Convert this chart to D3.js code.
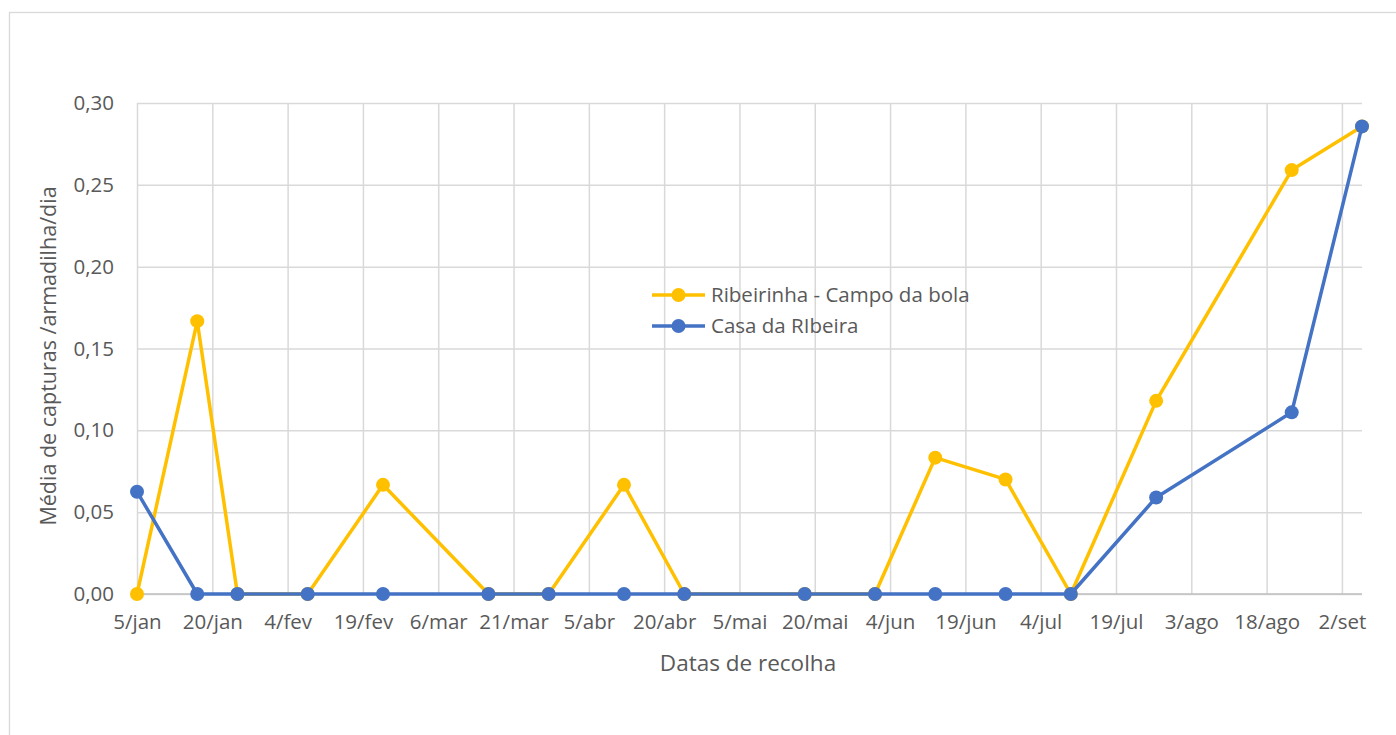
<!DOCTYPE html>
<html>
<head>
<meta charset="utf-8">
<script src="https://cdn.jsdelivr.net/npm/d3@7"></script>
<style>
  html, body { margin: 0; padding: 0; background: #fff; }
  svg { display: block; font-family: "Open Sans", Lato, sans-serif; }
</style>
</head>
<body>
<svg id="chart" width="1396" height="735"></svg>
<script>
// ---- data ----
const dates = ["2019-01-05","2019-01-17","2019-01-25","2019-02-08","2019-02-23","2019-03-16","2019-03-28",
  "2019-04-12","2019-04-24","2019-05-18","2019-06-01","2019-06-13","2019-06-27","2019-07-10",
  "2019-07-27","2019-08-23","2019-09-06"];
const ribeirinha = [0, 0.1667, 0, 0, 0.0667, 0, 0, 0.0667, 0, 0, 0, 0.0833, 0.07, 0, 0.118, 0.259, 0.2857];
const casaRibeira = [0.0625, 0, 0, 0, 0, 0, 0, 0, 0, 0, 0, 0, 0, 0, 0.059, 0.111, 0.2857];
const seriesNames = ["Ribeirinha - Campo da bola", "Casa da RIbeira"];
const seriesColors = ["#FFC000", "#4472C4"];
const xTickDates = ["2019-01-05","2019-01-20","2019-02-04","2019-02-19","2019-03-06","2019-03-21","2019-04-05",
  "2019-04-20","2019-05-05","2019-05-20","2019-06-04","2019-06-19","2019-07-04","2019-07-19",
  "2019-08-03","2019-08-18","2019-09-02"];
const yTicks = [0, 0.05, 0.10, 0.15, 0.20, 0.25, 0.30];
const xTitle = "Datas de recolha";
const yTitle = "Média de capturas /armadilha/dia";

// ---- setup ----
const parse = d3.utcParse("%Y-%m-%d");
const monthsPt = ["jan","fev","mar","abr","mai","jun","jul","ago","set","out","nov","dez"];
const fmtDate = d => d.getUTCDate() + "/" + monthsPt[d.getUTCMonth()];
const fmtNum = d => d.toFixed(2).replace(".", ",");
const FONT = "'Open Sans', Lato, sans-serif";

const svg = d3.select("#chart");
const pLeft = 137, pRight = 1362, pTop = 103, pBottom = 594;

const x = d3.scaleUtc()
  .domain([parse(dates[0]), parse(dates[dates.length - 1])])
  .range([pLeft, pRight]);
const y = d3.scaleLinear().domain([0, 0.30]).range([pBottom, pTop]);

// chart border
svg.append("rect")
  .attr("x", 9.5).attr("y", 12.5).attr("width", 1400).attr("height", 740)
  .attr("fill", "none").attr("stroke", "#d9d9d9").attr("stroke-width", 1.3);

// horizontal gridlines
const yAxis = d3.axisLeft(y).tickValues(yTicks).tickFormat(fmtNum)
  .tickSize(-(pRight - pLeft)).tickPadding(23);
const gy = svg.append("g").attr("transform", `translate(${pLeft},0)`).call(yAxis);
gy.select(".domain").remove();
gy.selectAll(".tick line").attr("stroke", "#d9d9d9").attr("stroke-width", 1.5);
gy.selectAll(".tick text").attr("fill", "#595959").style("font-size", "20.5px")
  .style("font-family", FONT);

// vertical gridlines + x labels
const xAxis = d3.axisBottom(x).tickValues(xTickDates.map(parse)).tickFormat(fmtDate)
  .tickSize(-(pBottom - pTop)).tickPadding(20);
const gx = svg.append("g").attr("transform", `translate(0,${pBottom})`).call(xAxis);
gx.select(".domain").remove();
gx.selectAll(".tick line").attr("stroke", "#d9d9d9").attr("stroke-width", 1.5);
gx.selectAll(".tick text").attr("fill", "#595959").style("font-size", "20.5px")
  .style("font-family", FONT);

// baseline
svg.append("line")
  .attr("x1", pLeft).attr("x2", pRight).attr("y1", y(0)).attr("y2", y(0))
  .attr("stroke", "#bfbfbf").attr("stroke-width", 1.5);

// series
const allSeries = [ribeirinha, casaRibeira];
const line = d3.line().x(d => x(d.date)).y(d => y(d.value));
allSeries.forEach((vals, i) => {
  const pts = dates.map((d, j) => ({ date: parse(d), value: vals[j] }));
  const g = svg.append("g");
  g.append("path").datum(pts).attr("d", line)
    .attr("fill", "none").attr("stroke", seriesColors[i]).attr("stroke-width", 3.5)
    .attr("stroke-linejoin", "round");
  g.selectAll("circle").data(pts).join("circle")
    .attr("cx", d => x(d.date)).attr("cy", d => y(d.value)).attr("r", 7)
    .attr("fill", seriesColors[i]);
});

// legend
const legend = svg.append("g").attr("transform", "translate(652,295)");
seriesNames.forEach((name, i) => {
  const row = legend.append("g").attr("transform", `translate(0,${i * 31})`);
  row.append("line").attr("x1", 0).attr("x2", 53).attr("y1", 0).attr("y2", 0)
    .attr("stroke", seriesColors[i]).attr("stroke-width", 3.5);
  row.append("circle").attr("cx", 26.5).attr("cy", 0).attr("r", 7).attr("fill", seriesColors[i]);
  row.append("text").attr("x", 59).attr("y", 0).attr("dy", "0.35em")
    .attr("fill", "#595959").style("font-size", "20.5px").style("font-family", FONT).text(name);
});

// axis titles
svg.append("text").attr("x", 748).attr("y", 663).attr("dy", "0.35em")
  .attr("text-anchor", "middle").attr("fill", "#595959").style("font-size", "22.5px")
  .style("font-family", FONT).text(xTitle);
svg.append("text").attr("transform", "translate(48,356) rotate(-90)").attr("dy", "0.35em")
  .attr("text-anchor", "middle").attr("fill", "#595959").style("font-size", "21.5px")
  .style("font-family", FONT).text(yTitle);
</script>
</body>
</html>
